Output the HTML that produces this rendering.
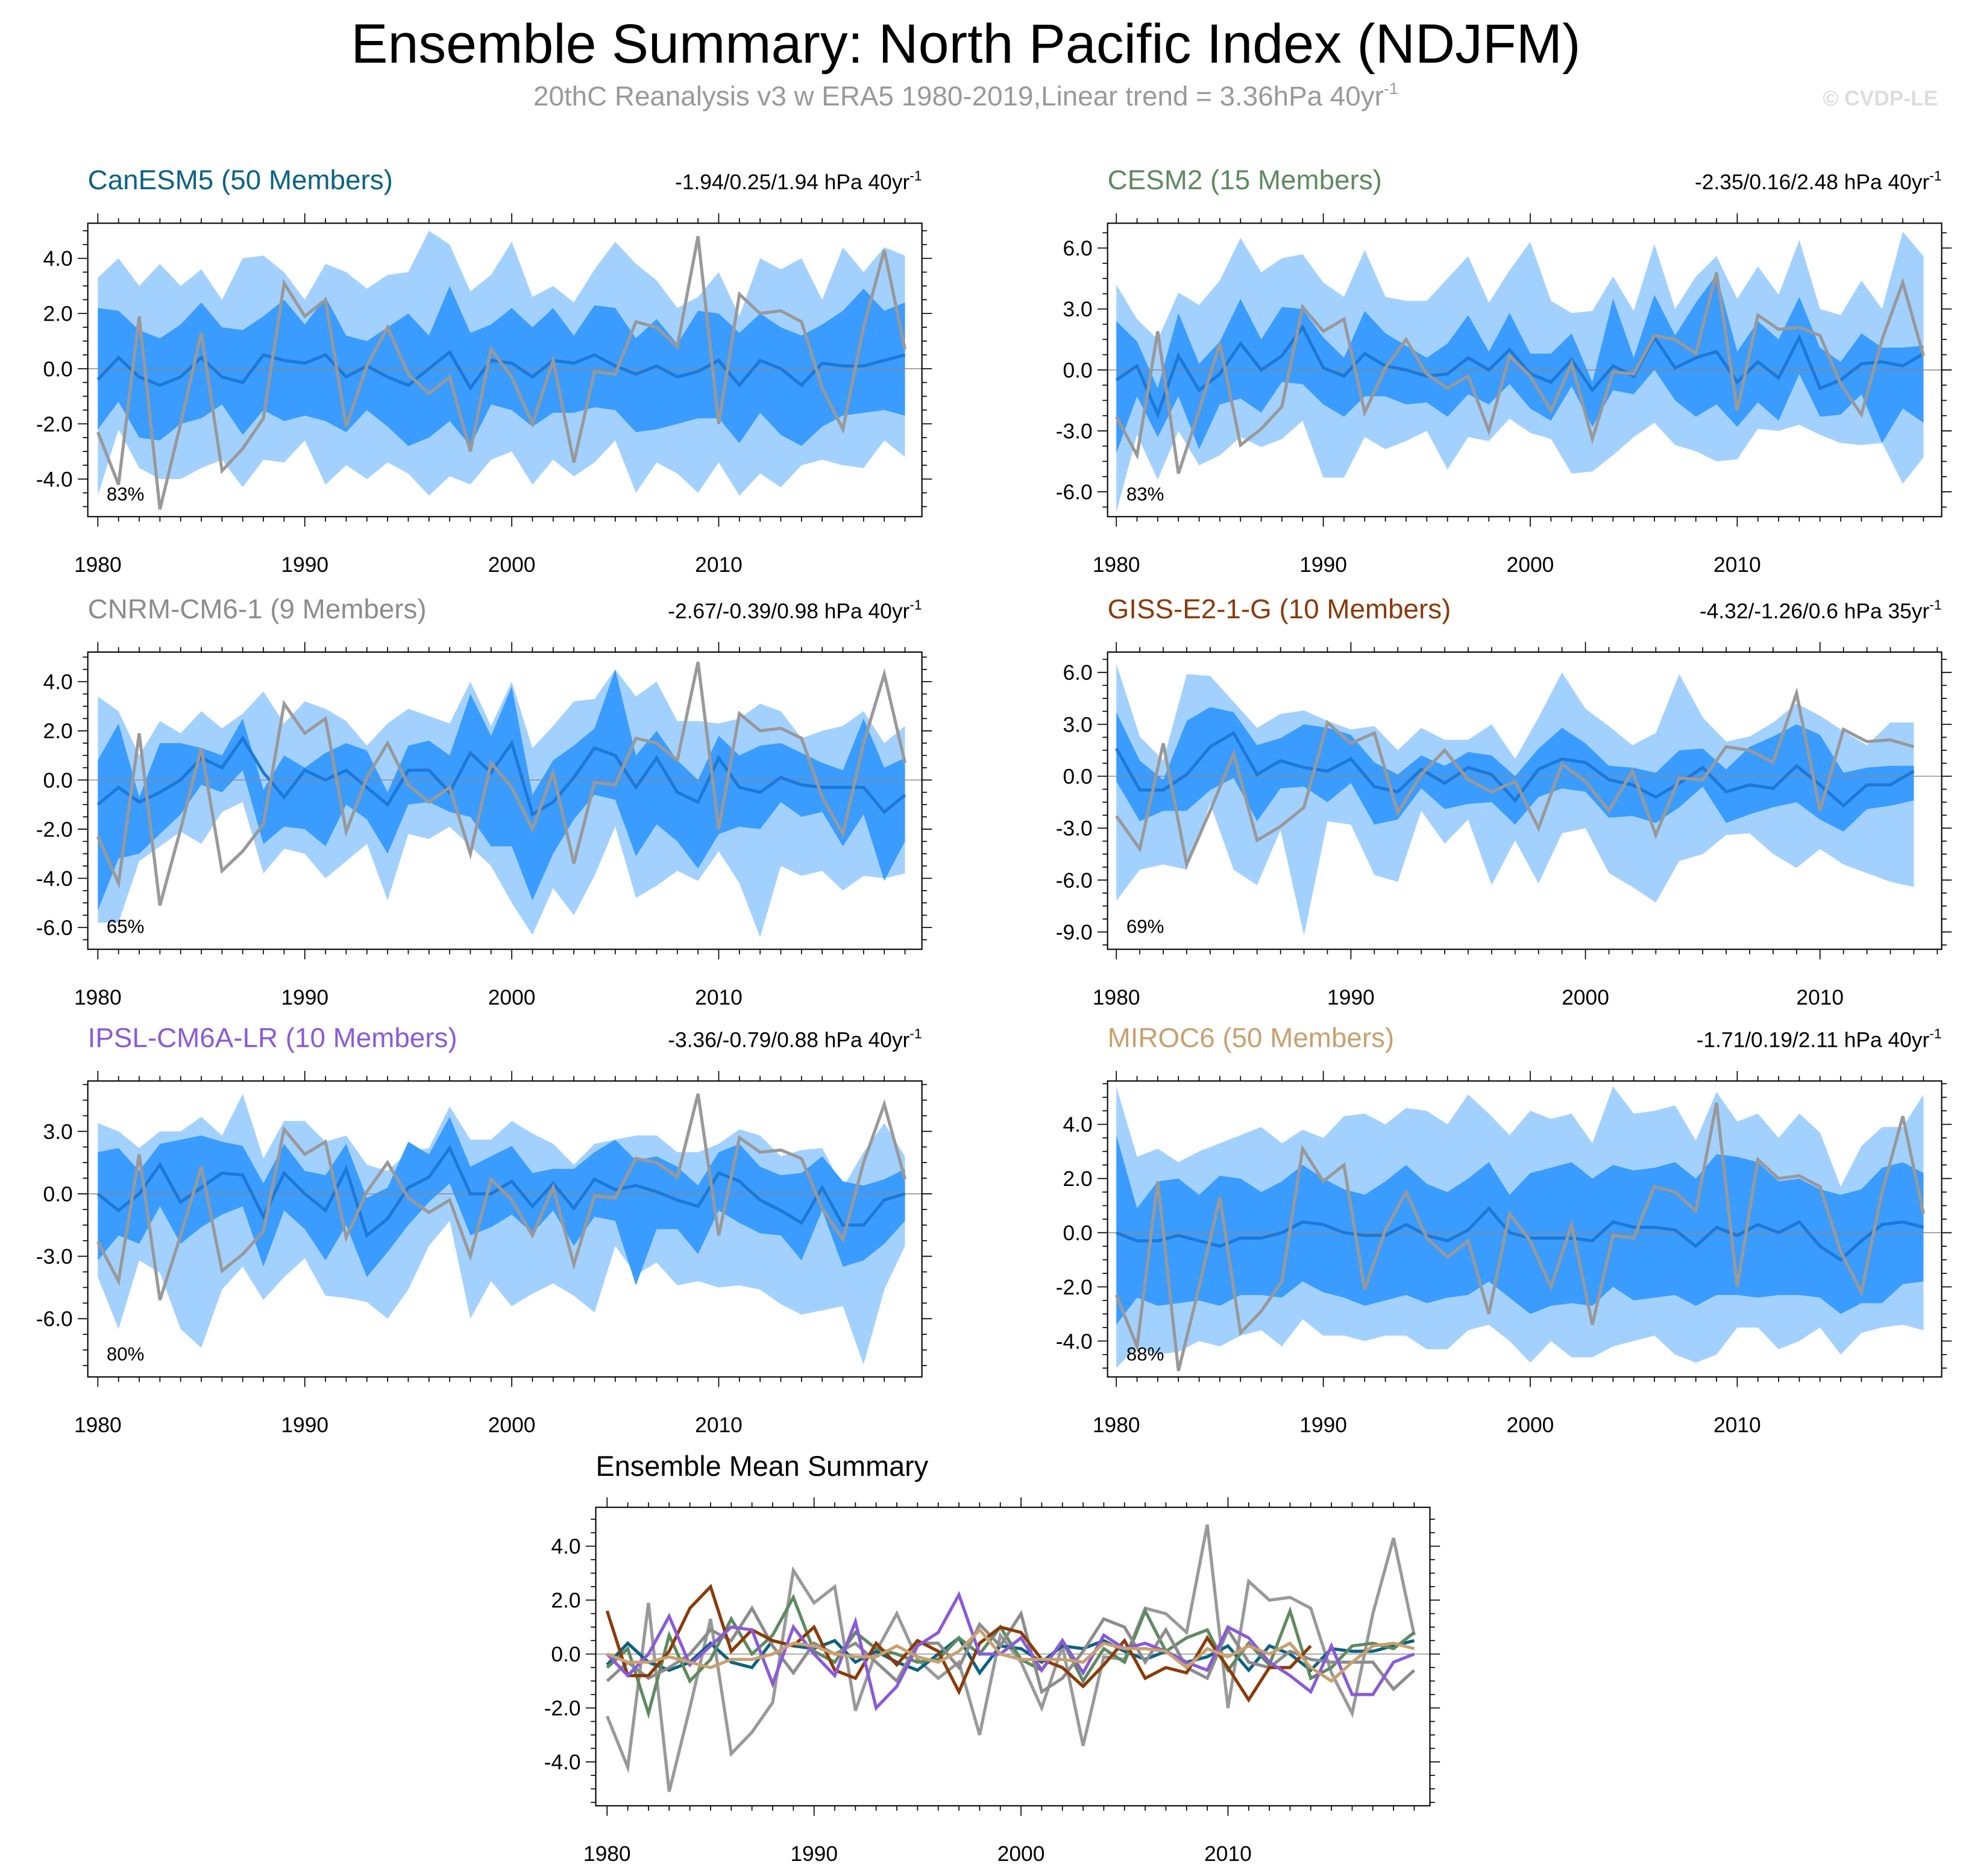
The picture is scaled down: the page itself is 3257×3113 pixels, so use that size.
<!DOCTYPE html>
<html><head><meta charset="utf-8">
<style>
html,body{margin:0;padding:0;background:#fff;}
svg{display:block;font-family:"Liberation Sans",sans-serif;}
</style></head>
<body>
<svg id="chart" width="3257" height="3113" viewBox="0 0 1565 1496" preserveAspectRatio="none" xmlns="http://www.w3.org/2000/svg">
<text x="770" y="50" font-size="44" text-anchor="middle" fill="#000">Ensemble Summary: North Pacific Index (NDJFM)</text>
<text x="770" y="84" font-size="22" text-anchor="middle" fill="#999">20thC Reanalysis v3 w ERA5 1980-2019,Linear trend = 3.36hPa 40yr<tspan dy="-9" font-size="13">-1</tspan></text>
<text x="1545" y="84" font-size="17" font-weight="bold" text-anchor="end" fill="#ddd">© CVDP-LE</text>
</svg>
<script>
const years = [];
for (let y = 1980; y <= 2019; y++) years.push(y);
const obs = [-2.3,-4.2,1.9,-5.1,-2.0,1.3,-3.7,-2.9,-1.8,3.1,1.9,2.5,-2.1,0.1,1.5,-0.2,-0.9,-0.3,-3.0,0.7,-0.3,-2.0,0.3,-3.4,-0.1,-0.2,1.7,1.5,0.8,4.8,-2.0,2.7,2.0,2.1,1.7,-0.7,-2.2,1.5,4.3,0.7];

const canMean = [-0.4,0.4,-0.3,-0.6,-0.3,0.4,-0.3,-0.5,0.5,0.3,0.2,0.5,-0.3,0.1,-0.3,-0.6,0.0,0.6,-0.7,0.3,0.2,-0.3,0.3,0.2,0.5,0.1,-0.2,0.1,-0.3,-0.1,0.3,-0.6,0.3,0.0,-0.6,0.2,0.1,0.1,0.3,0.5];
const canInHi = [2.2,2.1,1.4,1.1,1.6,2.4,1.5,1.4,1.9,2.5,1.6,2.6,1.2,1.0,1.5,2.0,1.2,3.0,1.3,1.6,2.2,1.5,2.2,1.2,2.3,2.2,1.1,1.8,0.9,2.1,2.0,1.3,2.0,1.5,1.2,1.6,2.1,2.9,2.1,2.4];
const canInLo = [-2.2,-1.2,-2.5,-2.6,-2.0,-1.8,-1.3,-2.4,-1.5,-1.9,-1.7,-1.9,-2.3,-1.5,-2.1,-2.8,-2.5,-1.9,-2.8,-1.3,-1.5,-2.1,-1.6,-1.6,-1.4,-1.5,-2.3,-2.2,-2.0,-1.8,-1.8,-2.7,-1.6,-2.4,-2.8,-2.1,-1.7,-1.6,-1.5,-1.7];
const canOutHi = [3.3,4.0,3.0,3.8,3.0,3.6,2.5,4.0,4.1,3.5,2.5,3.8,3.5,2.9,3.4,3.5,5.0,4.5,2.8,3.4,4.6,2.6,3.0,2.4,3.6,4.6,3.8,3.2,2.2,2.6,3.5,1.9,4.0,3.6,4.0,2.5,4.4,3.5,4.4,4.1];
const canOutLo = [-4.6,-2.2,-3.6,-4.0,-4.0,-3.6,-3.3,-4.3,-3.3,-3.4,-2.6,-4.2,-3.5,-4.0,-3.4,-3.8,-4.6,-3.9,-4.2,-3.3,-3.0,-4.2,-3.3,-3.9,-3.4,-2.6,-4.5,-3.4,-3.8,-4.5,-3.4,-4.6,-3.8,-4.3,-3.5,-3.3,-3.5,-3.6,-2.6,-3.2];

const cesmMean = [-0.5,0.2,-2.2,0.7,-1.0,-0.2,1.3,0.0,0.7,2.1,0.1,-0.3,0.8,0.2,0.0,-0.3,-0.2,0.6,0.0,1.0,-0.2,-0.6,0.5,-1.0,0.2,-0.3,1.6,0.1,0.6,0.9,-0.6,0.4,-0.4,1.6,-0.9,-0.5,0.3,0.4,0.2,0.8];
const cesmInHi = [2.4,1.4,-0.9,2.8,0.3,1.4,3.5,1.5,3.1,3.0,1.6,0.6,2.9,1.8,1.2,0.6,1.3,2.7,0.9,2.8,0.8,0.8,1.8,-0.6,3.5,0.6,3.7,1.7,3.3,4.7,0.9,2.4,1.5,3.6,1.1,0.4,1.8,1.1,1.1,1.2];
const cesmInLo = [-4.1,-1.3,-3.3,-1.3,-3.9,-1.7,-1.4,-2.1,-0.6,-0.7,-1.7,-2.3,-1.3,-1.3,-1.7,-1.6,-2.3,-1.2,-1.7,-0.7,-1.9,-2.5,-0.8,-2.8,-1.0,-1.2,0.0,-1.5,-2.3,-1.7,-2.8,-1.6,-2.5,-0.2,-2.3,-2.2,-1.2,-3.6,-1.9,-2.6];
const cesmOutHi = [4.2,2.5,1.5,3.8,3.2,4.4,6.5,4.8,5.5,5.7,4.3,3.6,5.9,3.6,3.4,3.4,4.5,5.6,3.3,4.9,6.3,3.4,2.8,2.9,4.6,2.9,6.2,3.0,4.6,5.6,3.5,5.1,3.7,6.4,3.0,2.7,4.4,3.0,6.8,5.6];
const cesmOutLo = [-7.0,-3.2,-5.4,-3.0,-4.7,-4.2,-3.3,-3.8,-3.4,-2.5,-5.3,-5.3,-3.3,-3.9,-3.5,-3.0,-4.9,-3.3,-3.5,-2.4,-3.1,-3.4,-5.1,-5.0,-4.2,-3.3,-2.6,-3.7,-4.0,-4.5,-4.4,-2.9,-3.0,-2.7,-3.2,-3.6,-3.7,-3.6,-5.6,-4.3];

const cnrmMean = [-1.0,-0.3,-0.9,-0.5,0.0,0.9,0.5,1.7,0.3,-0.7,0.4,0.0,0.4,-0.3,-1.0,0.4,0.4,-0.5,1.1,0.3,1.5,-1.4,-0.9,0.1,1.3,1.0,-0.3,0.9,-0.5,-0.9,0.9,-0.3,-0.5,0.1,-0.2,-0.3,-0.3,-0.3,-1.3,-0.6];
const cnrmInHi = [0.8,2.3,-0.7,1.5,1.5,1.3,1.0,2.5,-0.4,1.0,0.5,1.1,1.5,1.2,-0.5,1.4,1.6,1.0,3.5,1.8,3.8,-0.6,0.8,1.4,2.1,4.5,1.0,2.0,0.8,0.0,1.8,1.0,1.4,1.5,1.1,0.7,0.4,2.5,0.5,0.9];
const cnrmInLo = [-5.3,-3.2,-3.0,-2.2,-1.4,-0.2,-0.5,0.4,-2.6,-1.9,-2.0,-2.7,-1.0,-1.6,-3.0,-1.0,-0.9,-1.3,-1.5,-2.7,-2.7,-4.9,-3.0,-1.6,-0.6,-0.8,-3.1,-1.8,-2.5,-3.6,-2.2,-1.9,-2.0,-0.9,-1.5,-1.3,-2.7,-1.4,-4.1,-2.5];
const cnrmOutHi = [3.4,2.8,1.0,2.4,1.9,2.8,2.1,2.7,3.6,2.3,3.2,2.9,2.4,1.4,2.3,2.9,2.6,2.3,4.0,2.2,4.0,1.3,2.2,3.2,3.3,4.5,3.4,4.0,2.4,2.4,2.3,2.5,3.1,2.8,1.7,2.0,2.2,2.8,1.5,2.2];
const cnrmOutLo = [-5.8,-5.8,-3.3,-2.7,-2.1,-2.6,-1.3,-0.9,-3.8,-2.8,-3.0,-4.0,-3.3,-2.6,-4.9,-2.2,-2.4,-1.9,-2.7,-3.5,-5.0,-6.3,-4.4,-5.5,-3.9,-1.9,-4.8,-4.3,-3.7,-4.1,-2.9,-4.2,-6.4,-3.5,-3.9,-3.7,-4.5,-3.9,-4.0,-3.8];

const gissMean = [1.6,-0.8,-0.8,0.1,1.7,2.5,0.1,0.9,0.5,0.3,1.0,-0.6,-0.9,0.4,-0.4,0.5,0.1,-1.4,0.4,1.0,0.8,-0.2,-0.5,-1.2,-0.4,0.5,-0.9,-0.5,-0.7,0.6,-0.5,-1.7,-0.5,-0.5,0.3];
const gissInHi = [3.7,0.9,-0.2,3.2,4.0,3.7,1.8,2.2,3.0,2.8,2.4,0.8,0.1,1.2,0.6,1.4,1.2,0.0,1.6,2.8,1.9,0.6,0.5,0.2,1.5,1.6,0.4,1.7,2.3,3.0,2.4,0.2,0.5,0.6,0.6];
const gissInLo = [-0.3,-2.6,-2.0,-2.0,-0.8,-0.1,-2.6,-0.7,-0.6,-1.5,-0.4,-2.8,-2.5,-0.7,-1.9,-1.6,-1.5,-2.8,-1.2,-0.7,-0.9,-2.4,-2.3,-2.7,-1.8,-0.6,-2.7,-2.2,-1.8,-1.5,-2.5,-3.2,-1.9,-1.7,-1.4];
const gissOutHi = [6.5,2.3,0.9,5.9,5.8,4.3,2.8,3.6,3.8,3.2,2.7,2.9,1.5,2.8,2.1,2.1,3.0,1.0,3.4,6.0,3.9,2.9,1.8,2.5,5.9,3.4,2.0,2.3,3.1,4.2,3.5,2.6,1.8,3.1,3.1];
const gissOutLo = [-7.2,-5.4,-5.1,-5.4,-1.6,-5.4,-6.3,-3.1,-9.2,-2.6,-2.8,-5.7,-6.1,-2.0,-3.9,-2.5,-6.3,-3.7,-6.2,-3.3,-3.0,-5.6,-6.4,-7.3,-4.9,-4.5,-3.4,-3.3,-4.5,-5.3,-4.2,-5.1,-5.6,-6.1,-6.4];

const ipslMean = [0.0,-0.8,0.0,1.4,-0.4,0.3,1.0,0.9,-1.1,1.0,0.0,-0.8,1.2,-2.0,-1.2,0.3,0.8,2.2,0.0,0.0,0.6,-0.6,0.5,-0.7,0.7,0.2,0.4,0.1,-0.3,-0.6,1.0,0.6,-0.3,-0.8,-1.4,0.3,-1.5,-1.5,-0.3,0.0];
const ipslInHi = [2.0,2.2,1.1,2.4,2.6,2.8,2.5,2.3,0.5,2.4,1.1,0.9,2.4,-0.2,0.3,2.5,1.9,3.7,1.3,1.8,2.3,1.0,1.2,1.2,2.0,2.6,1.6,1.8,1.3,0.4,2.0,2.4,1.3,0.9,1.0,1.8,0.6,0.4,0.7,1.2];
const ipslInLo = [-3.2,-2.0,-2.4,-0.6,-2.4,-1.6,-1.0,-0.6,-3.5,-0.8,-1.7,-3.2,-1.5,-4.0,-2.8,-1.5,-0.4,0.5,-2.0,-1.6,-1.0,-1.9,-0.8,-2.5,-1.1,-1.3,-4.4,-1.7,-1.7,-2.9,-0.8,-1.4,-1.9,-2.0,-3.2,-0.8,-3.5,-3.2,-2.4,-1.3];
const ipslOutHi = [3.4,3.0,2.2,3.0,3.0,3.7,2.8,4.8,1.7,3.5,3.5,2.5,2.8,1.4,1.1,2.0,2.2,4.2,2.6,2.6,3.5,2.9,2.4,1.4,2.4,2.6,2.8,2.8,2.0,2.0,2.4,3.1,2.8,1.8,2.1,2.2,0.3,2.0,3.4,1.8];
const ipslOutLo = [-4.0,-6.5,-3.2,-3.8,-6.5,-7.4,-4.6,-3.5,-5.1,-4.0,-3.1,-4.9,-5.0,-5.2,-6.0,-4.6,-2.5,-1.3,-6.0,-4.2,-5.4,-4.8,-4.3,-4.9,-5.7,-2.5,-3.9,-3.3,-4.4,-4.2,-4.5,-4.4,-4.6,-5.3,-5.8,-5.6,-5.4,-8.2,-4.6,-2.5];

const mirocMean = [0.0,-0.3,-0.3,-0.1,-0.3,-0.5,-0.2,-0.2,0.0,0.4,0.3,0.0,-0.1,-0.1,0.3,-0.1,-0.3,0.1,0.9,0.0,-0.2,-0.2,-0.2,-0.3,0.4,0.2,0.2,0.1,-0.5,0.2,-0.1,0.3,0.0,0.4,-0.5,-1.0,-0.3,0.3,0.4,0.2];
const mirocInHi = [3.6,0.9,1.9,2.0,1.4,2.1,2.0,1.5,1.9,2.5,2.0,1.6,1.4,1.9,2.5,1.8,1.5,2.0,2.6,1.4,2.2,2.4,2.6,2.0,2.5,2.3,2.4,2.6,2.0,2.9,2.8,2.6,1.9,2.0,1.6,1.4,1.6,2.4,2.6,2.2];
const mirocInLo = [-3.4,-2.4,-2.7,-2.6,-2.5,-2.7,-2.3,-2.3,-2.4,-1.8,-2.2,-2.4,-2.7,-2.5,-2.3,-2.6,-2.4,-2.3,-1.8,-2.4,-3.0,-2.7,-2.6,-2.7,-2.0,-2.5,-2.4,-2.3,-2.7,-2.3,-2.3,-2.4,-2.3,-2.3,-2.4,-3.0,-2.6,-2.6,-1.9,-1.8];
const mirocOutHi = [5.4,2.8,3.1,2.6,3.0,3.3,3.6,3.9,3.3,3.8,3.5,4.3,4.4,4.0,4.6,4.5,4.0,5.1,4.4,3.6,4.5,4.2,4.4,3.3,5.4,4.4,4.5,4.7,3.4,5.2,4.1,4.4,3.5,4.4,3.7,1.7,3.2,3.9,3.9,5.1];
const mirocOutLo = [-5.0,-4.2,-4.5,-4.4,-4.0,-4.2,-3.8,-3.6,-4.2,-3.2,-3.8,-3.8,-4.0,-3.8,-3.8,-4.3,-4.3,-3.6,-3.4,-4.0,-4.8,-4.0,-4.6,-4.6,-4.2,-4.0,-3.8,-4.5,-4.8,-4.5,-3.5,-3.5,-4.3,-4.0,-3.5,-4.5,-3.7,-3.5,-3.4,-3.6];

const xTickYears = [1980,1990,2000,2010];

const NS = "http://www.w3.org/2000/svg";
const svg = document.getElementById('chart');
function mk(tag, attrs, parent) {
  const e = document.createElementNS(NS, tag);
  for (const k in attrs) e.setAttribute(k, attrs[k]);
  (parent || svg).appendChild(e);
  return e;
}

const panels = [
  {key:'canesm5', title:'CanESM5 (50 Members)', color:'#0b6283', stat:'-1.94/0.25/1.94 hPa 40yr', pct:'83%',
   box:[70,178,735,412], x0:78, dx:16.5, zero:294, dy:22, yt:[-4,-2,0,2,4], ymin:-5.3, ymax:5.2,
   mean:canMean, ih:canInHi, il:canInLo, oh:canOutHi, ol:canOutLo},
  {key:'cesm2', title:'CESM2 (15 Members)', color:'#5e8a60', stat:'-2.35/0.16/2.48 hPa 40yr', pct:'83%',
   box:[883,178,1548,412], x0:890, dx:16.5, zero:295, dy:16.2, yt:[-6,-3,0,3,6], ymin:-7.2, ymax:7.2,
   mean:cesmMean, ih:cesmInHi, il:cesmInLo, oh:cesmOutHi, ol:cesmOutLo},
  {key:'cnrm', title:'CNRM-CM6-1 (9 Members)', color:'#8c8c8c', stat:'-2.67/-0.39/0.98 hPa 40yr', pct:'65%',
   box:[70,520,735,757], x0:78, dx:16.5, zero:622, dy:19.6, yt:[-6,-4,-2,0,2,4], ymin:-6.9, ymax:5.2,
   mean:cnrmMean, ih:cnrmInHi, il:cnrmInLo, oh:cnrmOutHi, ol:cnrmOutLo},
  {key:'giss', title:'GISS-E2-1-G (10 Members)', color:'#8b3a0a', stat:'-4.32/-1.26/0.6 hPa 35yr', pct:'69%',
   box:[883,520,1548,757], x0:890, dx:18.7, zero:619, dy:13.8, yt:[-9,-6,-3,0,3,6], ymin:-10, ymax:7.2,
   mean:gissMean, ih:gissInHi, il:gissInLo, oh:gissOutHi, ol:gissOutLo},
  {key:'ipsl', title:'IPSL-CM6A-LR (10 Members)', color:'#8a5ad8', stat:'-3.36/-0.79/0.88 hPa 40yr', pct:'80%',
   box:[70,862,735,1098], x0:78, dx:16.5, zero:952, dy:16.6, yt:[-6,-3,0,3], ymin:-8.8, ymax:5.4,
   mean:ipslMean, ih:ipslInHi, il:ipslInLo, oh:ipslOutHi, ol:ipslOutLo},
  {key:'miroc6', title:'MIROC6 (50 Members)', color:'#c9a06f', stat:'-1.71/0.19/2.11 hPa 40yr', pct:'88%',
   box:[883,862,1548,1098], x0:890, dx:16.5, zero:983, dy:21.6, yt:[-4,-2,0,2,4], ymin:-5.2, ymax:5.7,
   mean:mirocMean, ih:mirocInHi, il:mirocInLo, oh:mirocOutHi, ol:mirocOutLo}
];

function fmt(v){ return v.toFixed(1); }

function drawAxes(p, g, name) {
  const [bx0,by0,bx1,by1] = p.box;
  const X = yr => p.x0 + (yr-1980)*p.dx;
  const Y = v => p.zero - v*p.dy;
  const step = p.yt[1]-p.yt[0];
  for (let v = Math.ceil(p.ymin/(step/4))*(step/4); v <= p.ymax+1e-9; v += step/4) {
    const yy = Y(v);
    if (yy < by0 || yy > by1) continue;
    const major = p.yt.some(t => Math.abs(t-v) < 1e-6);
    const len = major ? 8 : 4;
    mk('line',{x1:bx0-len,x2:bx0,y1:yy,y2:yy,stroke:'#000','stroke-width':0.8},g);
    mk('line',{x1:bx1,x2:bx1+len,y1:yy,y2:yy,stroke:'#000','stroke-width':0.8},g);
  }
  p.yt.forEach(v => {
    const t = mk('text',{x:bx0-12,y:Y(v)+6,'font-size':17,'text-anchor':'end',fill:'#000'},g);
    
    
    t.textContent = fmt(v);
  });
  for (let yr = 1980; ; yr++) {
    const xx = X(yr);
    if (xx > bx1) break;
    const major = yr % 10 === 0;
    const len = major ? 8 : 4;
    mk('line',{x1:xx,x2:xx,y1:by1,y2:by1+len,stroke:'#000','stroke-width':0.8},g);
    mk('line',{x1:xx,x2:xx,y1:by0-len,y2:by0,stroke:'#000','stroke-width':0.8},g);
  }
  xTickYears.forEach(yr => {
    const t = mk('text',{x:X(yr),y:by1+44,'font-size':17,'text-anchor':'middle',fill:'#000'},g);
    
    
    t.textContent = yr;
  });
  mk('rect',{x:bx0,y:by0,width:bx1-bx0,height:by1-by0,fill:'none',stroke:'#000','stroke-width':1},g);
  return {X,Y};
}

function linePts(arr, X, Y){ return arr.map((v,i)=>X(years[i]).toFixed(1)+','+Y(v).toFixed(1)).join(' '); }
function bandPts(hi, lo, X, Y){
  const a = hi.map((v,i)=>X(years[i]).toFixed(1)+','+Y(v).toFixed(1));
  const b = lo.map((v,i)=>X(years[i]).toFixed(1)+','+Y(v).toFixed(1)).reverse();
  return a.concat(b).join(' ');
}

panels.forEach(p => {
  const g = mk('g',{});
  
  
  const [bx0,by0,bx1,by1] = p.box;
  const cid = 'clip-'+p.key;
  const cp = mk('clipPath',{id:cid},g);
  mk('rect',{x:bx0,y:by0,width:bx1-bx0,height:by1-by0},cp);
  const X = yr => p.x0 + (yr-1980)*p.dx;
  const Y = v => p.zero - v*p.dy;
  const dg = mk('g',{'clip-path':'url(#'+cid+')'},g);
  const ob = mk('polygon',{points:bandPts(p.oh,p.ol,X,Y),fill:'#a3d1ff'},dg);
  
  
  const ib = mk('polygon',{points:bandPts(p.ih,p.il,X,Y),fill:'#3a9cff'},dg);
  
  
  mk('line',{x1:bx0,x2:bx1,y1:Y(0),y2:Y(0),stroke:'#888','stroke-width':0.7},dg);
  const ml = mk('polyline',{points:linePts(p.mean,X,Y),fill:'none',stroke:'#1e78d6','stroke-width':2.5},dg);
  
  
  const ol = mk('polyline',{points:linePts(obs.slice(0,p.mean.length),X,Y),fill:'none',stroke:'#999','stroke-width':2.5},dg);
  
  
  drawAxes(p, g, p.key);
  const t = mk('text',{x:bx0,y:by0-27,'font-size':22,fill:p.color},g);
  
  
  t.textContent = p.title;
  const s = mk('text',{x:bx1,y:by0-27,'font-size':17,'text-anchor':'end',fill:'#000'},g);
  
  
  s.textContent = p.stat;
  const sup = mk('tspan',{dy:-7,'font-size':11},s);
  sup.textContent = '-1';
  const pc = mk('text',{x:bx0+15,y:by1-13,'font-size':15,fill:'#000'},g);
  
  
  pc.textContent = p.pct;
});

(function(){
  const p = {box:[475,1202,1140,1440], x0:484, dx:16.5, zero:1319, dy:21.5, yt:[-4,-2,0,2,4], ymin:-5.5, ymax:5.5};
  const g = mk('g',{});
  
  
  const X = yr => p.x0 + (yr-1980)*p.dx;
  const Y = v => p.zero - v*p.dy;
  mk('line',{x1:p.box[0],x2:p.box[2],y1:Y(0),y2:Y(0),stroke:'#888','stroke-width':0.7},g);
  const ol = mk('polyline',{points:linePts(obs,X,Y),fill:'none',stroke:'#999','stroke-width':2.5},g);
  
  
  panels.forEach(pp => {
    const l = mk('polyline',{points:linePts(pp.mean,X,Y),fill:'none',stroke:pp.color,'stroke-width':2.5},g);
    
    
  });
  drawAxes(p, g, 'summary');
  const t = mk('text',{x:475,y:1177,'font-size':22.5,fill:'#000'},g);
  
  
  t.textContent = 'Ensemble Mean Summary';
})();
</script>
</body></html>
